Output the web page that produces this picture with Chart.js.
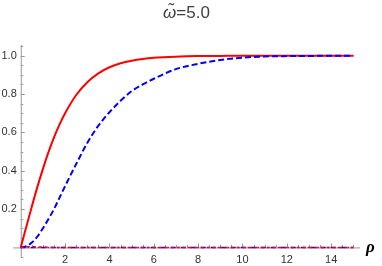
<!DOCTYPE html>
<html>
<head>
<meta charset="utf-8">
<script src="https://cdn.jsdelivr.net/npm/chart.js@4.4.0/dist/chart.umd.min.js"></script>
<style>
  html, body { margin: 0; padding: 0; background: #fff; }
</style>
</head>
<body>
<canvas id="grafRho" width="382" height="266"></canvas>
<script>
// valores
const rho = [0, 0.25, 0.5, 0.75, 1, 1.25, 1.5, 1.75, 2, 2.5, 3, 3.5, 4, 4.5, 5, 5.5, 6, 7, 8, 9, 10, 11, 12, 13, 14, 15];
const vermelho = [0, 0.108, 0.214, 0.316, 0.41, 0.497, 0.574, 0.642, 0.70, 0.795, 0.862, 0.908, 0.940, 0.961, 0.974, 0.983, 0.989, 0.995, 0.998, 0.999, 1, 1, 1, 1, 1, 1];
const azul = [0, 0.006, 0.025, 0.057, 0.10, 0.148, 0.20, 0.26, 0.32, 0.435, 0.545, 0.635, 0.705, 0.765, 0.815, 0.85, 0.88, 0.93, 0.958, 0.978, 0.99, 0.996, 0.998, 0.999, 1, 1];
const zeroVerm = [0, 0.003, 0.004, 0.003, 0.002, 0.001, 0, 0, 0, 0, 0, 0, 0, 0, 0, 0, 0, 0, 0, 0, 0, 0, 0, 0, 0, 0];
const zeroAzul = [0, 0, 0, 0, 0, 0, 0, 0, 0, 0, 0, 0, 0, 0, 0, 0, 0, 0, 0, 0, 0, 0, 0, 0, 0, 0];
const ticksX = [2, 4, 6, 8, 10, 12, 14];
const ticksY = [0.2, 0.4, 0.6, 0.8, 1.0];

function pts(ys) {
    return rho.map(function(x, i) { return { x: x, y: ys[i] }; });
}

const eixos = {
    id: 'eixos',
    beforeDatasetsDraw(chart) {
        const c = chart.ctx, sx = chart.scales.x, sy = chart.scales.y;
        const x0 = sx.getPixelForValue(0), y0 = sy.getPixelForValue(0);
        c.save();
        c.strokeStyle = '#999';
        c.lineWidth = 1;
        c.beginPath();
        c.moveTo(sx.left, y0 + 0.5); c.lineTo(sx.right, y0 + 0.5);
        c.moveTo(x0 + 0.5, sy.top); c.lineTo(x0 + 0.5, sy.bottom);
        // ticks do eixo x (para dentro)
        for (let v = 0.5; v <= 15.01; v += 0.5) {
            const px = Math.round(sx.getPixelForValue(v)) + 0.5;
            const maior = Math.abs(v / 2 - Math.round(v / 2)) < 1e-6;
            c.moveTo(px, y0); c.lineTo(px, y0 - (maior ? 4 : 2.5));
        }
        // ticks do eixo y
        for (let v = -0.05; v <= 1.06; v += 0.05) {
            const py = Math.round(sy.getPixelForValue(v)) + 0.5;
            const maior = Math.abs(v / 0.2 - Math.round(v / 0.2)) < 1e-6;
            c.moveTo(x0, py); c.lineTo(x0 + (maior ? 4 : 2.5), py);
        }
        c.stroke();
        c.restore();
    },
    afterDraw(chart) {
        const c = chart.ctx, sx = chart.scales.x, sy = chart.scales.y;
        const x0 = sx.getPixelForValue(0), y0 = sy.getPixelForValue(0);
        c.save();
        c.fillStyle = '#333';
        c.font = '11px "Liberation Sans", Arial, sans-serif';
        c.textAlign = 'center';
        c.textBaseline = 'middle';
        ticksX.forEach(function(t) {
            c.fillText(String(t), sx.getPixelForValue(t), y0 + 13);
        });
        c.textAlign = 'right';
        ticksY.forEach(function(t) {
            c.fillText(t.toFixed(1), x0 - 4, sy.getPixelForValue(t));
        });
        // rotulo rho
        c.fillStyle = '#000';
        c.textAlign = 'left';
        c.textBaseline = 'alphabetic';
        c.font = 'italic bold 17px "Liberation Serif", "DejaVu Serif", serif';
        c.fillText('ρ', 366, 252);
        // titulo
        c.fillStyle = '#404040';
        const fi = 'italic 17px "Liberation Sans", Arial, sans-serif';
        const fn = '17px "Liberation Sans", Arial, sans-serif';
        c.font = fi;
        const w1 = c.measureText('ω̃').width;
        c.font = fn;
        const w2 = c.measureText('=5.0').width;
        const xi = 186.5 - (w1 + w2) / 2;
        c.font = fi;
        c.fillText('ω̃', xi, 17.5);
        c.font = fn;
        c.fillText('=5.0', xi + w1, 17.5);
        c.restore();
    }
};

const ctx = document.getElementById('grafRho').getContext('2d');
new Chart(ctx, {
    type: 'line',
    data: {
        datasets: [
            { data: pts(zeroVerm), borderColor: '#ff0000', borderWidth: 1.5, borderDash: [3, 3], pointRadius: 0, cubicInterpolationMode: 'monotone' },
            { data: pts(zeroAzul), borderColor: '#1010e0', borderWidth: 1.5, borderDash: [5, 2, 1, 2], pointRadius: 0 },
            { data: pts(azul), borderColor: '#0000ff', borderWidth: 2, borderDash: [6, 3], pointRadius: 0, cubicInterpolationMode: 'monotone' },
            { data: pts(vermelho), borderColor: '#ff0000', borderWidth: 2, pointRadius: 0, cubicInterpolationMode: 'monotone' }
        ]
    },
    options: {
        responsive: false,
        animation: false,
        layout: { padding: { left: 13, right: 22, top: 45, bottom: 9 } },
        plugins: { legend: { display: false }, tooltip: { enabled: false } },
        scales: {
            x: { type: 'linear', min: -0.35, max: 15.3, display: false },
            y: { type: 'linear', min: -0.05, max: 1.056, display: false }
        }
    },
    plugins: [eixos]
});
</script>
</body>
</html>
